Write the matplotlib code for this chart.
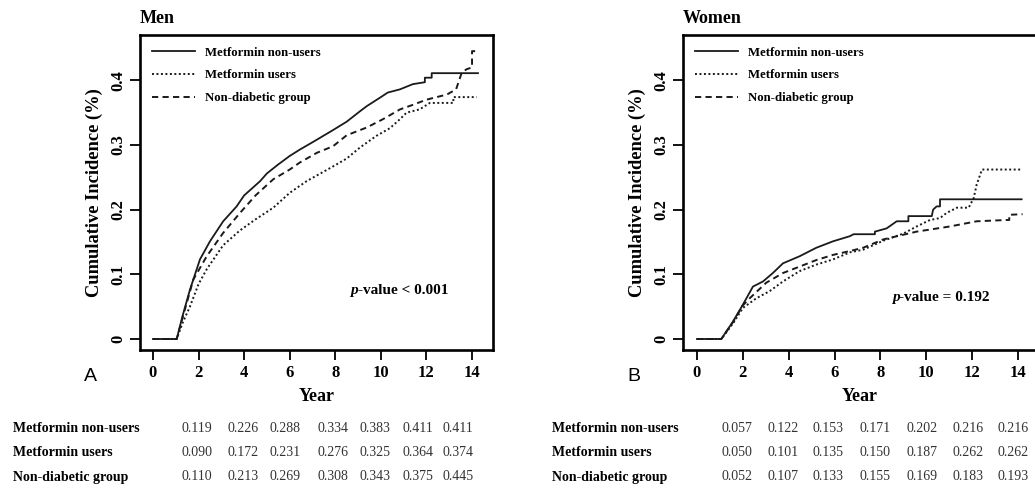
import matplotlib
matplotlib.use("Agg")
from matplotlib import pyplot as plt

plt.rcParams["font.family"] = ["Liberation Serif", "DejaVu Serif"]

group_names = ["Metformin non-users", "Metformin users", "Non-diabetic group"]
year_ticks = [0, 2, 4, 6, 8, 10, 12, 14]
y_ticks = [0, 0.1, 0.2, 0.3, 0.4]
y_tick_labels = ["0", "0.1", "0.2", "0.3", "0.4"]

# Men (time in years, cumulative incidence)
men_nonusers_t = [0, 1.04, 1.3, 1.62, 2.06, 2.5, 3.08, 3.67, 4.0, 4.7, 5.0, 5.5, 6.0, 6.45, 7.04, 7.9, 8.5,
                  9.08, 9.38, 10.0, 10.3, 10.84, 11.4, 11.93, 11.93, 12.23, 12.23, 14.26]
men_nonusers_v = [0, 0, 0.036, 0.076, 0.123, 0.151, 0.182, 0.205, 0.222, 0.244, 0.256, 0.270, 0.283, 0.293, 0.305,
                  0.323, 0.336, 0.352, 0.360, 0.374, 0.381, 0.386, 0.394, 0.397, 0.404, 0.404, 0.411, 0.411]
men_users_t = [0, 1.04, 1.3, 1.62, 2.0, 2.36, 3.08, 3.82, 4.5, 5.28, 6.0, 6.74, 7.91, 8.5, 9.08, 9.8, 10.4,
               10.84, 11.13, 11.7, 12.15, 13.18, 13.18, 14.2]
men_users_v = [0, 0, 0.025, 0.05, 0.085, 0.108, 0.145, 0.168, 0.185, 0.203, 0.226, 0.244, 0.267, 0.279, 0.296,
               0.314, 0.326, 0.340, 0.350, 0.355, 0.365, 0.365, 0.374, 0.374]
men_nondiab_t = [0, 1.04, 1.3, 1.77, 2.36, 3.08, 3.82, 4.5, 5.28, 6.0, 6.45, 7.2, 7.9, 8.5, 9.38, 10.1, 10.84,
                 11.4, 12.0, 12.9, 13.3, 13.55, 13.76, 14.0, 14.0, 14.28]
men_nondiab_v = [0, 0, 0.033, 0.092, 0.128, 0.164, 0.195, 0.222, 0.247, 0.262, 0.273, 0.288, 0.298, 0.315,
                 0.327, 0.340, 0.355, 0.362, 0.370, 0.378, 0.386, 0.412, 0.417, 0.420, 0.445, 0.445]

# Women
women_nonusers_t = [0, 1.06, 1.57, 2.0, 2.44, 2.88, 3.31, 3.75, 4.48, 5.2, 5.93, 6.67, 6.83, 7.76, 7.76, 8.27,
                    8.71, 9.22, 9.22, 10.24, 10.3, 10.45, 10.6, 10.6, 14.16]
women_nonusers_v = [0, 0, 0.027, 0.053, 0.081, 0.089, 0.102, 0.117, 0.128, 0.141, 0.151, 0.159, 0.162, 0.162,
                    0.166, 0.171, 0.182, 0.182, 0.190, 0.190, 0.200, 0.205, 0.205, 0.216, 0.216]
women_users_t = [0, 1.06, 1.57, 2.0, 2.59, 3.17, 3.75, 4.48, 5.2, 5.93, 6.67, 7.24, 8.13, 9.0, 9.58, 10.16,
                 10.6, 10.89, 11.34, 11.85, 12.07, 12.2, 12.43, 14.16]
women_users_v = [0, 0, 0.024, 0.048, 0.063, 0.074, 0.089, 0.105, 0.115, 0.123, 0.134, 0.138, 0.152, 0.163,
                 0.174, 0.184, 0.187, 0.195, 0.203, 0.203, 0.218, 0.239, 0.262, 0.262]
women_nondiab_t = [0, 1.06, 1.57, 2.0, 2.3, 3.02, 3.75, 4.48, 5.2, 5.93, 6.67, 7.24, 8.13, 9.58, 11.03, 12.2,
                   13.5, 13.62, 13.62, 14.2]
women_nondiab_v = [0, 0, 0.026, 0.052, 0.063, 0.087, 0.102, 0.112, 0.122, 0.130, 0.136, 0.141, 0.154, 0.166,
                   0.174, 0.182, 0.184, 0.184, 0.192, 0.193]

# numbers printed under each panel
men_table = [["0.119", "0.226", "0.288", "0.334", "0.383", "0.411", "0.411"],
             ["0.090", "0.172", "0.231", "0.276", "0.325", "0.364", "0.374"],
             ["0.110", "0.213", "0.269", "0.308", "0.343", "0.375", "0.445"]]
women_table = [["0.057", "0.122", "0.153", "0.171", "0.202", "0.216", "0.216"],
               ["0.050", "0.101", "0.135", "0.150", "0.187", "0.262", "0.262"],
               ["0.052", "0.107", "0.133", "0.155", "0.169", "0.183", "0.193"]]

styles = [dict(ls="-", lw=1.3), dict(ls=(0, (1, 1.3)), lw=1.4), dict(ls=(0, (3.2, 2.2)), lw=1.4)]

W, H = 1035, 497
fig = plt.figure(figsize=(W / 100, H / 100), dpi=100)


def panel(rect, xlim, curves, title, letter, ptext, ppos):
    ax = fig.add_axes(rect)
    for (t, v), name, st in zip(curves, group_names, styles):
        ax.plot(t, v, color="#1a1a1a", label=name, **st)
    ax.set_xlim(*xlim)
    ax.set_ylim(-0.017, 0.470)
    ax.set_xticks(year_ticks)
    ax.set_yticks(y_ticks)
    ax.set_yticklabels(y_tick_labels, rotation=90, va="center")
    for lab in ax.get_xticklabels() + ax.get_yticklabels():
        lab.set_fontweight("bold")
    ax.tick_params(direction="out", length=7, width=1.4, labelsize=12, color="#111111")
    ax.tick_params(axis="x", pad=4)
    ax.tick_params(axis="y", pad=3)
    for s in ax.spines.values():
        s.set_linewidth(1.9)
    ax.set_xlabel("Year", fontsize=13, fontweight="bold", labelpad=5)
    ax.set_ylabel("Cumulative Incidence (%)", fontsize=13.3, fontweight="bold", labelpad=5)
    ax.text(0, 1.025, title, transform=ax.transAxes, fontsize=13, fontweight="bold", va="bottom")
    ax.legend(loc="upper left", frameon=False, prop=dict(size=9.2, weight="bold"),
              handlelength=3.4, handletextpad=0.8, labelspacing=0.85, borderaxespad=0.6,
              borderpad=0.3)
    pt = ax.text(ppos[0], ppos[1], "p", fontsize=11, fontweight="bold", style="italic", va="center")
    ax.annotate(ptext, xy=(1, 0.5), xycoords=pt, fontsize=11, fontweight="bold", va="center")
    ax.text(-0.14, -0.085, letter, transform=ax.transAxes, fontsize=14,
            family=["Liberation Sans", "DejaVu Sans"], ha="center", va="center")
    return ax


panel([140 / W, 1 - 350 / H, 353 / W, 315 / H], (-0.57, 14.92),
      [(men_nonusers_t, men_nonusers_v), (men_users_t, men_users_v), (men_nondiab_t, men_nondiab_v)],
      "Men", "A", "-value < 0.001", (8.64, 0.075))
panel([683 / W, 1 - 350 / H, 354 / W, 315 / H], (-0.61, 14.83),
      [(women_nonusers_t, women_nonusers_v), (women_users_t, women_users_v),
       (women_nondiab_t, women_nondiab_v)],
      "Women", "B", "-value = 0.192", (8.5, 0.064))

row_y = [428, 453, 477]
men_cols = [197, 243, 285, 333, 375, 418, 458]
women_cols = [737, 783, 828, 875, 922, 968, 1013]
for lx, cols, table in [(13, men_cols, men_table), (552, women_cols, women_table)]:
    for r, name in enumerate(group_names):
        fig.text(lx / W, 1 - row_y[r] / H, name, fontsize=10, fontweight="bold", va="center")
        for c, val in enumerate(table[r]):
            fig.text(cols[c] / W, 1 - row_y[r] / H, val, fontsize=10, ha="center", va="center",
                     color="#333333")

fig.savefig("out.png", dpi=100)
